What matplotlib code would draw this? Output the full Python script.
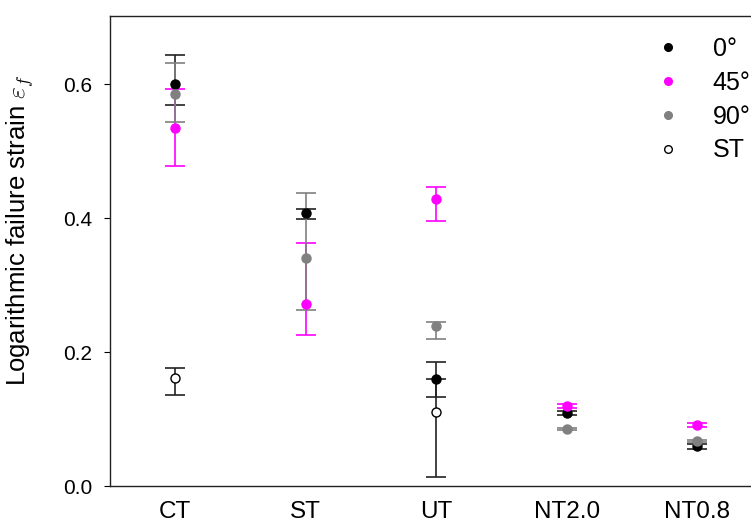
import matplotlib
matplotlib.use("Agg")
import matplotlib.pyplot as plt
from matplotlib.lines import Line2D
import numpy as np

plt.rcParams['font.family'] = ['Liberation Sans', 'DejaVu Sans']
plt.rcParams['mathtext.fontset'] = 'cm'

categories = ["CT", "ST", "UT", "NT2.0", "NT0.8"]
series_names = ["0°", "45°", "90°", "ST"]

# values and asymmetric errors (lower, upper)
val_0 = [0.600, 0.407, 0.160, 0.109, 0.059]
lo_0 = [0.031, 0.009, 0.027, 0.003, 0.004]
hi_0 = [0.043, 0.006, 0.025, 0.003, 0.003]

val_45 = [0.535, 0.272, 0.429, 0.119, 0.091]
lo_45 = [0.058, 0.046, 0.033, 0.003, 0.003]
hi_45 = [0.057, 0.091, 0.018, 0.003, 0.003]

val_90 = [0.585, 0.341, 0.239, 0.085, 0.067]
lo_90 = [0.041, 0.078, 0.020, 0.002, 0.002]
hi_90 = [0.046, 0.097, 0.006, 0.002, 0.002]

st_cats = ["CT", "UT"]
val_st = [0.161, 0.111]
lo_st = [0.025, 0.097]
hi_st = [0.015, 0.049]

fig = plt.figure(figsize=(7.51, 5.28), dpi=100)
ax = fig.add_axes([110 / 751, 42 / 528, (762.6 - 110) / 751, (486 - 15.7) / 528])

x = np.arange(1, len(categories) + 1)
ekw = dict(fmt='o', markersize=6.5, capsize=7, capthick=1.2, elinewidth=1.2)

ax.errorbar(x, val_0, yerr=[lo_0, hi_0], color='black', ecolor='#222222', **ekw)
ax.errorbar(x, val_45, yerr=[lo_45, hi_45], color='#FF00FF', ecolor='#FF00FF', **ekw)
ax.errorbar(x, val_90, yerr=[lo_90, hi_90], color='#808080', ecolor='#808080', **ekw)
xst = [categories.index(c) + 1 for c in st_cats]
ax.errorbar(xst, val_st, yerr=[lo_st, hi_st], fmt='o', markersize=6.5, capsize=7,
            capthick=1.2, elinewidth=1.2, color='#222222', mfc='white', mec='black')

ax.set_xlim(0.5, 5.5)
ax.set_ylim(0, 0.702)
ax.set_xticks(x)
ax.set_xticklabels(categories, fontsize=17.5)
ax.tick_params(axis='x', length=0, pad=11)
ax.set_yticks([0.0, 0.2, 0.4, 0.6])
ax.set_yticklabels(["0.0", "0.2", "0.4", "0.6"], fontsize=15)
ax.tick_params(axis='y', length=4.6, direction='out', pad=8)
ax.set_ylabel(r"Logarithmic failure strain $\varepsilon_f$", fontsize=18.5)
ax.yaxis.set_label_coords(-0.113, 0.545)

for s in ax.spines.values():
    s.set_linewidth(1.0)
    s.set_color('#222222')

handles = [
    Line2D([], [], marker='o', linestyle='none', color='black', markersize=5.5),
    Line2D([], [], marker='o', linestyle='none', color='#FF00FF', markersize=5.5),
    Line2D([], [], marker='o', linestyle='none', color='#808080', markersize=5.5),
    Line2D([], [], marker='o', linestyle='none', mfc='white', mec='black', markersize=5.5),
]
fig.legend(handles, series_names, loc='upper left', bbox_to_anchor=(649 / 751, 1 - 37 / 528),
           frameon=False, fontsize=18, handletextpad=1.05, labelspacing=0.39,
           handlelength=1.5, borderpad=0, borderaxespad=0)

fig.savefig("out.png", dpi=100)
